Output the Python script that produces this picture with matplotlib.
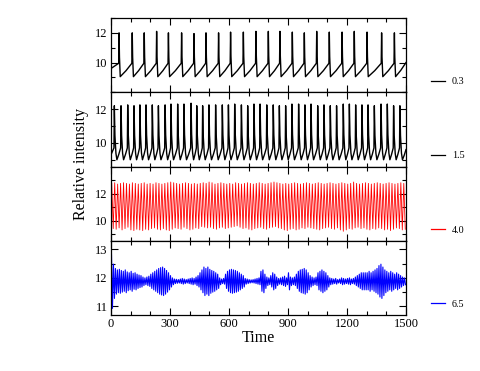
import numpy as np
import matplotlib
matplotlib.use("Agg")
import matplotlib.pyplot as plt
from matplotlib.ticker import MultipleLocator, FixedLocator
from matplotlib.lines import Line2D

plt.rcParams['font.family'] = 'serif'
plt.rcParams['font.serif'] = ['Liberation Serif', 'DejaVu Serif']

# ---------------- data ----------------
legend_labels = ['0.3', '1.5', '4.0', '6.5']
series_colors = ['black', 'black', 'red', 'blue']
x_ticks = [0, 300, 600, 900, 1200, 1500]
t_end = 1500

# panel 0.3 : spike times and peak heights
spike_t_03 = [41, 108, 169, 232, 292, 359, 422, 483, 547, 608, 673, 737,
              800, 859, 922, 983, 1046, 1110, 1175, 1237, 1302, 1376, 1441]
spike_peak_03 = [12.0, 12.0, 12.0, 12.1, 12.0, 12.0, 11.95, 12.0, 12.0, 12.05,
                 12.05, 12.1, 12.1, 12.1, 12.05, 12.0, 12.1, 12.05, 12.05,
                 12.1, 12.05, 12.0, 12.0]
trough_03 = 9.05
ramp_top_03 = 9.95
start_03, end_03 = 9.6, 10.0

# panel 1.5 : spike times and peak heights
spike_t_15 = [17, 51, 85, 117, 147, 178, 210, 241, 275, 305, 339, 371, 407,
              436, 466, 498, 532, 566, 597, 629, 663, 695, 727, 758, 792, 825,
              856, 888, 920, 954, 986, 1017, 1051, 1083, 1115, 1147, 1181,
              1212, 1244, 1276, 1307, 1339, 1373, 1405, 1437, 1469]
spike_peak_15 = [12.2, 12.2, 12.25, 12.2, 12.25, 12.25, 12.25, 12.2, 12.25,
                 12.3, 12.3, 12.3, 12.35, 12.2, 12.2, 12.25, 12.25, 12.25,
                 12.25, 12.3, 12.25, 12.2, 12.3, 12.3, 12.25, 12.25, 12.2,
                 12.2, 12.3, 12.3, 12.25, 12.3, 12.2, 12.25, 12.2, 12.2, 12.3,
                 12.3, 12.25, 12.25, 12.25, 12.2, 12.3, 12.3, 12.2, 12.2]
trough_15 = 9.0
ramp_top_15 = 9.7
start_15, end_15 = 9.3, 9.6

# panel 4.0 : per-cycle maxima and minima (cycle length 15)
red_period = 15
red_peaks = [12.75, 12.8, 12.7, 12.75, 12.8, 12.75, 12.7, 12.8, 12.75, 12.7,
             12.75, 12.8, 12.7, 12.75, 12.7, 12.8, 12.75, 12.7, 12.75, 12.8,
             12.85, 12.8, 12.75, 12.7, 12.75, 12.8, 12.75, 12.7, 12.75, 12.7,
             12.75, 12.8, 12.75, 12.85, 12.8, 12.7, 12.75, 12.8, 12.75, 12.7,
             12.75, 12.7, 12.8, 12.75, 12.7, 12.75, 12.8, 12.75, 12.7, 12.75,
             12.8, 12.75, 12.7, 12.75, 12.8, 12.85, 12.8, 12.75, 12.7, 12.75,
             12.7, 12.75, 12.8, 12.75, 12.7, 12.75, 12.8, 12.75, 12.7, 12.75,
             12.8, 12.75, 12.7, 12.75, 12.8, 12.75, 12.7, 12.75, 12.8, 12.75,
             12.7, 12.75, 12.85, 12.75, 12.7, 12.75, 12.8, 12.75, 12.7, 12.75,
             12.8, 12.75, 12.7, 12.75, 12.8, 12.75, 12.7, 12.75, 12.8, 12.75]
red_troughs = [9.4, 9.35, 9.45, 9.3, 9.4, 9.5, 9.3, 9.25, 9.35, 9.3,
               9.25, 9.35, 9.3, 9.4, 9.45, 9.35, 9.3, 9.4, 9.3, 9.25,
               9.35, 9.45, 9.4, 9.35, 9.5, 9.4, 9.3, 9.35, 9.45, 9.4,
               9.55, 9.5, 9.45, 9.5, 9.4, 9.35, 9.45, 9.5, 9.4, 9.45,
               9.5, 9.55, 9.6, 9.5, 9.4, 9.45, 9.35, 9.3, 9.4, 9.45,
               9.5, 9.4, 9.35, 9.45, 9.5, 9.55, 9.45, 9.4, 9.3, 9.25,
               9.35, 9.4, 9.3, 9.35, 9.45, 9.4, 9.5, 9.45, 9.4, 9.35,
               9.3, 9.4, 9.45, 9.5, 9.4, 9.35, 9.45, 9.3, 9.2, 9.3,
               9.4, 9.35, 9.45, 9.5, 9.4, 9.45, 9.35, 9.3, 9.4, 9.35,
               9.45, 9.4, 9.3, 9.35, 9.25, 9.35, 9.45, 9.4, 9.3, 9.35]

# panel 6.5 : per-cycle half amplitude around a mean level (cycle length 10)
blue_period = 10
blue_mean = 11.88
blue_amp = [0.95, 0.6, 0.45, 0.4, 0.42, 0.38, 0.35, 0.4, 0.33, 0.3,
            0.35, 0.28, 0.3, 0.25, 0.22, 0.2, 0.15, 0.12, 0.15, 0.18,
            0.25, 0.3, 0.35, 0.4, 0.45, 0.48, 0.5, 0.45, 0.38, 0.3,
            0.2, 0.12, 0.08, 0.07, 0.06, 0.08, 0.1, 0.08, 0.06, 0.08,
            0.1, 0.12, 0.1, 0.15, 0.2, 0.3, 0.4, 0.5, 0.45, 0.5,
            0.42, 0.38, 0.35, 0.3, 0.25, 0.12, 0.08, 0.1, 0.25, 0.35,
            0.4, 0.42, 0.4, 0.38, 0.35, 0.3, 0.25, 0.2, 0.1, 0.08,
            0.06, 0.05, 0.06, 0.08, 0.1, 0.12, 0.35, 0.4, 0.25, 0.15,
            0.12, 0.2, 0.3, 0.25, 0.15, 0.1, 0.12, 0.15, 0.18, 0.12,
            0.3, 0.15, 0.12, 0.15, 0.25, 0.35, 0.4, 0.42, 0.45, 0.4,
            0.3, 0.2, 0.15, 0.12, 0.15, 0.3, 0.35, 0.4, 0.35, 0.3,
            0.2, 0.12, 0.1, 0.08, 0.1, 0.06, 0.08, 0.12, 0.1, 0.08,
            0.1, 0.12, 0.08, 0.1, 0.15, 0.2, 0.25, 0.3, 0.3, 0.3,
            0.3, 0.35, 0.3, 0.35, 0.4, 0.45, 0.55, 0.6, 0.5, 0.4,
            0.35, 0.3, 0.35, 0.3, 0.25, 0.3, 0.25, 0.2, 0.15, 0.12]

ylims = [(8.0, 13.0), (8.6, 13.0), (8.5, 14.0), (10.7, 13.3)]
y_major_ticks = [[10, 12], [10, 12], [10, 12], [11, 12, 13]]
y_minor_step = [1, 1, 1, 0.5]


# ---------------- waveform assembly ----------------
def spike_wave(spikes, peaks, trough, ramp_top, start, end, fall_shape, rise=2):
    """fall_shape: list of (time after spike, fraction of peak-trough height)."""
    fall_end = fall_shape[-1][0]
    t = [0.0]
    y = [start]
    for i, (ts, pk) in enumerate(zip(spikes, peaks)):
        t += [ts - rise, ts]
        y += [ramp_top, pk]
        for dt, fr in fall_shape:
            t.append(ts + dt)
            y.append(trough + fr * (pk - trough))
        if i + 1 < len(spikes):
            gap = (spikes[i + 1] - rise) - (ts + fall_end)
            t.append(ts + fall_end + 0.5 * gap)
            y.append(trough + 0.45 * (ramp_top - trough))
    prev = spikes[-1] + fall_end
    t.append(prev + 0.5 * (t_end - prev))
    y.append(trough + 0.45 * (end - trough))
    t.append(t_end)
    y.append(end)
    return np.array(t), np.array(y)


def cycle_wave(period, highs, lows):
    t, y = [], []
    for k, (h, l) in enumerate(zip(highs, lows)):
        t += [k * period + 0.25 * period, k * period + 0.75 * period]
        y += [h, l]
    return np.array(t), np.array(y)


t1, y1 = spike_wave(spike_t_03, spike_peak_03, trough_03, ramp_top_03, start_03, end_03,
                    fall_shape=[(2, 0.45), (6, 0.0)])
t2, y2 = spike_wave(spike_t_15, spike_peak_15, trough_15, ramp_top_15, start_15, end_15,
                    fall_shape=[(3, 0.45), (8, 0.12), (13, 0.0)])
t3, y3 = cycle_wave(red_period, red_peaks, red_troughs)
blue_hi = [blue_mean + a for a in blue_amp]
blue_lo = [blue_mean - a for a in blue_amp]
t4, y4 = cycle_wave(blue_period, blue_hi, blue_lo)
series = [(t1, y1), (t2, y2), (t3, y3), (t4, y4)]
line_widths = [1.0, 1.0, 0.6, 0.8]

# ---------------- figure ----------------
W, H = 480, 371
fig = plt.figure(figsize=(W / 100, H / 100), dpi=100)

left_px, right_px = 111, 406
top_px, panel_h = 18, 74.25

for i in range(4):
    bottom = 1 - (top_px + panel_h * (i + 1)) / H
    ax = fig.add_axes([left_px / W, bottom, (right_px - left_px) / W, panel_h / H])
    tt, yy = series[i]
    ax.plot(tt, yy, color=series_colors[i], lw=line_widths[i], label=legend_labels[i])
    ax.set_xlim(0, t_end)
    ax.set_ylim(*ylims[i])
    ax.xaxis.set_major_locator(MultipleLocator(300))
    ax.xaxis.set_minor_locator(MultipleLocator(100))
    ax.yaxis.set_major_locator(FixedLocator(y_major_ticks[i]))
    ax.yaxis.set_minor_locator(MultipleLocator(y_minor_step[i]))
    ax.tick_params(which='both', direction='in', top=True, right=True,
                   labelsize=9, width=0.8, pad=2.5)
    ax.tick_params(which='major', length=5)
    ax.tick_params(which='minor', length=3)
    for s in ax.spines.values():
        s.set_linewidth(0.9)
    if i < 3:
        ax.set_xticklabels([])
    else:
        ax.set_xticks(x_ticks)
        ax.set_xlabel('Time', fontsize=11.5, labelpad=0)
    ax.legend(handles=[Line2D([], [], color=series_colors[i], lw=0.9)],
              labels=[legend_labels[i]], loc='center left',
              bbox_to_anchor=((430.7 - left_px) / (right_px - left_px), 10.6 / panel_h),
              frameon=False, fontsize=7.3, handlelength=1.4, handletextpad=0.7,
              borderpad=0, borderaxespad=0)

fig.text(81 / W, 1 - 164 / H, 'Relative intensity', rotation=90,
         ha='center', va='center', fontsize=11.5)

fig.savefig('out.png', dpi=100)
